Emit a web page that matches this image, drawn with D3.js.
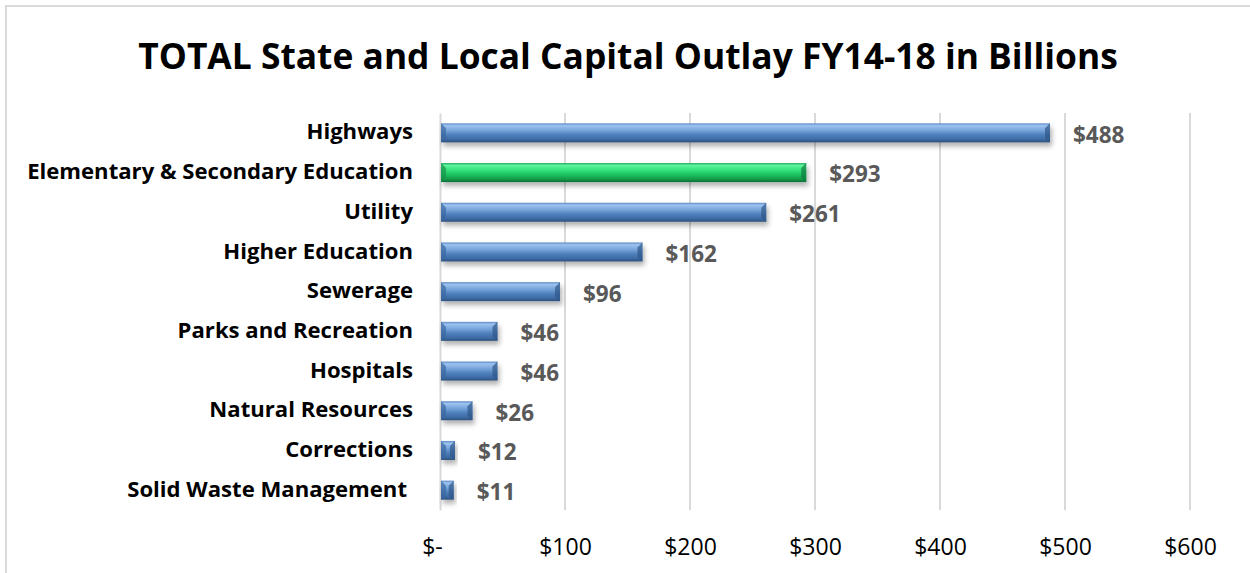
<!DOCTYPE html>
<html lang="en">
<head>
<meta charset="UTF-8">
<title>Capital Outlay</title>
<script src="https://cdn.jsdelivr.net/npm/d3@7/dist/d3.min.js"></script>
<style>
  body { margin: 0; background: #fff; }
  #chart { width: 1250px; height: 573px; }
  text { font-family: "Open Sans", Lato, sans-serif; }
</style>
</head>
<body>
<div id="chart"></div>
<script>
// data
const categories = ['Highways', 'Elementary & Secondary Education', 'Utility', 'Higher Education',
  'Sewerage', 'Parks and Recreation', 'Hospitals', 'Natural Resources', 'Corrections', 'Solid Waste Management'];
const values = [488, 293, 261, 162, 96, 46, 46, 26, 12, 11];
const highlighted = ['Elementary & Secondary Education'];
const xTicks = [0, 100, 200, 300, 400, 500, 600];
const title = 'TOTAL State and Local Capital Outlay FY14-18 in Billions';

const W = 1250, H = 573;
const margin = { top: 113, right: 60, bottom: 63, left: 440 };
const height = H - margin.top - margin.bottom;

const svg = d3.select('#chart').append('svg')
  .attr('width', W).attr('height', H);

// gradients + shadow
const defs = svg.append('defs');
function grad(id, stops) {
  const g = defs.append('linearGradient').attr('id', id)
    .attr('x1', 0).attr('y1', 0).attr('x2', 0).attr('y2', 1);
  stops.forEach(s => g.append('stop').attr('offset', s[0]).attr('stop-color', s[1]));
}
grad('blue', [[0, '#5b88c4'], [0.12, '#9cc3f0'], [0.35, '#7aa7dc'], [0.6, '#4f81bd'], [0.85, '#3d6aa3'], [1, '#2c4f7c']]);
grad('green', [[0, '#1fa55a'], [0.12, '#5ef5a0'], [0.35, '#38e37f'], [0.6, '#1cc462'], [0.85, '#139a4a'], [1, '#0d6e35']]);
const f = defs.append('filter').attr('id', 'shadow').attr('x', '-10%').attr('y', '-30%').attr('width', '130%').attr('height', '190%');
f.append('feDropShadow').attr('dx', 2).attr('dy', 4).attr('stdDeviation', 2.5)
  .attr('flood-color', '#000').attr('flood-opacity', 0.3);

// fit a text node's font size so its width matches target
function fit(sel, size, target) {
  sel.style('font-size', size + 'px');
  const w = sel.node().getComputedTextLength();
  sel.style('font-size', (size * target / w) + 'px');
}

// border
svg.append('rect')
  .attr('x', 6).attr('y', 6).attr('width', W + 10).attr('height', H + 10)
  .attr('fill', 'none').attr('stroke', '#d9d9d9').attr('stroke-width', 2);

// title
const t = svg.append('text')
  .attr('x', 628).attr('y', 69)
  .attr('text-anchor', 'middle')
  .style('font-weight', 700).attr('fill', '#000')
  .text(title);
fit(t, 34, 980);

const g = svg.append('g').attr('transform', `translate(${margin.left},${margin.top})`);

const x = d3.scaleLinear().domain([0, 600]).range([0, 750]);
const y = d3.scaleBand().domain(categories).range([0, height]).paddingInner(0.5).paddingOuter(0.25);

// grid
g.selectAll('.grid').data(xTicks.slice(1)).enter().append('line')
  .attr('x1', d => x(d)).attr('x2', d => x(d))
  .attr('y1', 0).attr('y2', height)
  .attr('stroke', '#d9d9d9').attr('stroke-width', 2);

// x axis
const xAxis = d3.axisBottom(x).tickValues(xTicks).tickSize(0).tickPadding(0)
  .tickFormat(d => d === 0 ? '$-' : '$' + d);
const ax = g.append('g').attr('transform', `translate(0,${height + 29})`).call(xAxis);
ax.select('.domain').remove();
ax.selectAll('text').style('font-size', '23px').style('font-family', '"Open Sans", Lato, sans-serif')
  .attr('fill', '#000');
ax.selectAll('text').filter(d => d === 0).attr('dx', -8);

// y axis
const yAxis = d3.axisLeft(y).tickSize(0).tickPadding(27);
const ay = g.append('g').call(yAxis);
ay.select('.domain').attr('stroke', '#d9d9d9').attr('stroke-width', 2);
const labelSize = (() => {
  const tmp = svg.append('text').style('font-weight', 700).text(categories[1]);
  fit(tmp, 20, 386);
  const s = tmp.style('font-size');
  tmp.remove();
  return s;
})();
ay.selectAll('text').style('font-size', labelSize).style('font-weight', 700)
  .style('font-family', '"Open Sans", Lato, sans-serif').attr('fill', '#000')
  .attr('dy', '0.3em');
ay.selectAll('text').filter(d => d === 'Solid Waste Management').attr('dx', -6);

// bars
const bh = 19;
const bars = g.selectAll('.bar').data(categories).enter().append('g')
  .attr('class', 'bar')
  .attr('transform', d => `translate(0,${y(d) + y.bandwidth() / 2 - bh / 2})`);
bars.append('rect')
  .attr('x', 1).attr('y', 0)
  .attr('width', (d, i) => x(values[i]) - 1)
  .attr('height', bh)
  .attr('fill', d => highlighted.includes(d) ? 'url(#green)' : 'url(#blue)')
  .attr('filter', 'url(#shadow)');
// bevel edges
bars.append('path')
  .attr('d', `M1,0 L6,5 L6,${bh - 4} L1,${bh} Z`)
  .attr('fill', d => highlighted.includes(d) ? '#17914a' : '#3b67a0').attr('opacity', 0.7);
bars.append('path')
  .attr('d', (d, i) => { const w = x(values[i]); return `M${w},0 L${w - 5},5 L${w - 5},${bh - 4} L${w},${bh} Z`; })
  .attr('fill', d => highlighted.includes(d) ? '#0f7a3c' : '#2f5688').attr('opacity', 0.7);

// value labels
g.selectAll('.val').data(categories).enter().append('text')
  .attr('x', (d, i) => x(values[i]) + 23)
  .attr('y', d => y(d) + y.bandwidth() / 2 + 2)
  .attr('dy', '0.35em')
  .style('font-size', '22.5px').style('font-weight', 700).attr('fill', '#595959')
  .text((d, i) => '$' + values[i]);
</script>
</body>
</html>
